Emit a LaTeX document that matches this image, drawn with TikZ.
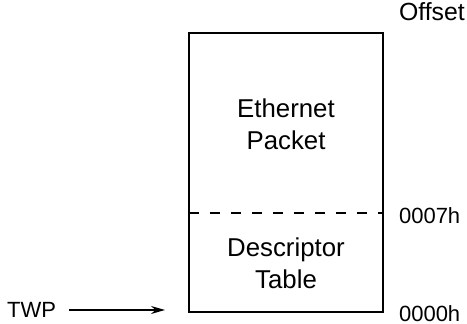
\documentclass[tikz,border=0pt]{standalone}
\usepackage{fontspec}
\setmainfont{Liberation Sans}
\usetikzlibrary{arrows.meta, positioning}

\tikzset{
  lbl/.style={font=\fontsize{11}{13}\selectfont},
  big/.style={font=\fontsize{12.9}{16}\selectfont, align=center},
  offs/.style={lbl, anchor=west}
}

\begin{document}
\begin{tikzpicture}[x=0.5pt, y=-0.5pt]
        \useasboundingbox (0,0) rectangle (467,324);

        % Buffer box
        \draw[line width=1.4pt] (189,33) rectangle (383,312);
        \coordinate (sl) at (189,213);
        \coordinate (sr) at (383,213);
        \draw[dash pattern=on 5pt off 5.5pt, line width=0.8pt] (sl) -- (sr);

        % Region labels
        \node[big] (eth) at (286,124) {Ethernet\\Packet};
        \node[big] (desc) at (286,263) {Descriptor\\Table};

        % Offsets
        \node[offs, font=\fontsize{12.4}{14}\selectfont] (offset) at (392,12) {Offset};
        \node[offs] (o7) at (392,216) {0007h};
        \node[offs] (o0) at (392,314) {0000h};

        % Pointer
        \node[lbl, anchor=west] (twp) at (0,310) {TWP};
        \coordinate (tip) at (165,310);
        \draw[-{Stealth[length=7pt, width=4pt]}, line width=0.7pt] ([xshift=3pt]twp.east) -- (tip);
    \end{tikzpicture}
\end{document}
